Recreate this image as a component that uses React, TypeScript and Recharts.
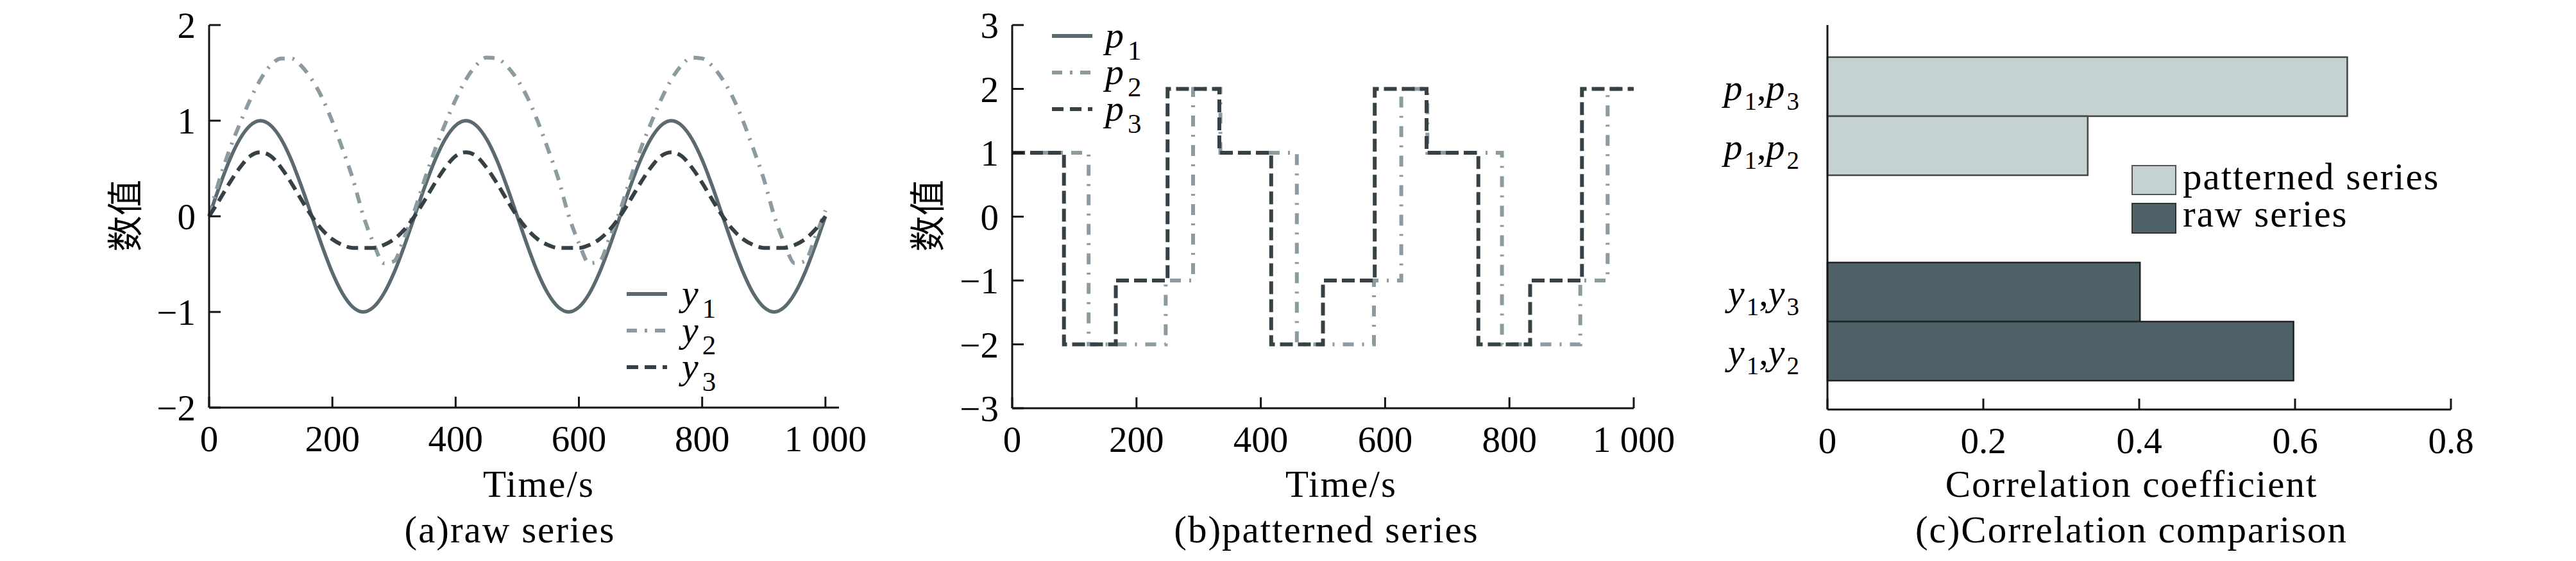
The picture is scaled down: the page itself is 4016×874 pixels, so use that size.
import React from 'react';
import { LineChart, Line, XAxis, YAxis, Legend, BarChart, Bar, Cell, LabelList } from 'recharts';

const SERIF = "'Liberation Serif', 'Times New Roman', serif";
const CJK = "'Noto Sans CJK SC', 'Noto Sans CJK JP', sans-serif";

// ---------- (a) raw series ----------
const TIME = [
  0, 16.7, 33.3, 50, 66.7, 83.3, 100, 116.7, 133.3, 150, 166.7, 183.3, 200, 216.7, 233.3, 250, 266.7, 283.3, 300, 316.7,
  333.3, 350, 366.7, 383.3, 400, 416.7, 433.3, 450, 466.7, 483.3, 500, 516.7, 533.3, 550, 566.7, 583.3, 600, 616.7, 633.3, 650,
  666.7, 683.3, 700, 716.7, 733.3, 750, 766.7, 783.3, 800, 816.7, 833.3, 850, 866.7, 883.3, 900, 916.7, 933.3, 950, 966.7, 983.3,
  1000,
];
const Y1 = [
  0, 0.31, 0.59, 0.81, 0.95, 1, 0.95, 0.81, 0.59, 0.31, 0, -0.31, -0.59, -0.81, -0.95, -1, -0.95, -0.81, -0.59, -0.31,
  0, 0.31, 0.59, 0.81, 0.95, 1, 0.95, 0.81, 0.59, 0.31, 0, -0.31, -0.59, -0.81, -0.95, -1, -0.95, -0.81, -0.59, -0.31,
  0, 0.31, 0.59, 0.81, 0.95, 1, 0.95, 0.81, 0.59, 0.31, 0, -0.31, -0.59, -0.81, -0.95, -1, -0.95, -0.81, -0.59, -0.31,
  0,
];
const Y2 = [
  0, 0.38, 0.7, 0.97, 1.22, 1.43, 1.58, 1.65, 1.65, 1.57, 1.43, 1.24, 0.99, 0.7, 0.39, 0.01, -0.28, -0.49, -0.47, -0.22,
  0.06, 0.39, 0.7, 0.97, 1.22, 1.43, 1.58, 1.66, 1.65, 1.57, 1.43, 1.24, 0.99, 0.7, 0.39, 0.01, -0.28, -0.49, -0.47, -0.22,
  0.06, 0.39, 0.7, 0.97, 1.22, 1.43, 1.58, 1.66, 1.65, 1.57, 1.43, 1.24, 0.99, 0.7, 0.39, 0.01, -0.28, -0.49, -0.47, -0.22,
  0.06,
];
const Y3 = [
  0, 0.17, 0.35, 0.51, 0.63, 0.67, 0.63, 0.51, 0.35, 0.17, 0, -0.14, -0.24, -0.3, -0.33, -0.33, -0.33, -0.3, -0.24, -0.14,
  0, 0.17, 0.35, 0.51, 0.63, 0.67, 0.63, 0.51, 0.35, 0.17, 0, -0.14, -0.24, -0.3, -0.33, -0.33, -0.33, -0.3, -0.24, -0.14,
  0, 0.17, 0.35, 0.51, 0.63, 0.67, 0.63, 0.51, 0.35, 0.17, 0, -0.14, -0.24, -0.3, -0.33, -0.33, -0.33, -0.3, -0.24, -0.14,
  0,
];

// ---------- (b) patterned series ----------
const P1_TIME = [0, 83.3, 166.7, 250, 333.3, 416.7, 500, 583.3, 666.7, 750, 833.3, 916.7, 1000];
const P1 = [1, -2, -1, 2, 1, -2, -1, 2, 1, -2, -1, 2, 2];
const P2_TIME = [0, 123, 247, 291, 335, 458, 582, 626, 668, 788, 914, 958, 1000];
const P2 = [1, -2, -1, 2, 1, -2, -1, 2, 1, -2, -1, 2, 2];
const P3_TIME = [0, 83.3, 166.7, 250, 333.3, 416.7, 500, 583.3, 666.7, 750, 833.3, 916.7, 1000];
const P3 = [1, -2, -1, 2, 1, -2, -1, 2, 1, -2, -1, 2, 2];

// ---------- (c) correlation comparison ----------
const GROUPS = ['patterned series', 'raw series'];
const FIRST_PAIR = [0.667, 0.401];
const SECOND_PAIR = [0.334, 0.598];
const FIRST_LABELS = [['p', '1', 'p', '3'], ['y', '1', 'y', '3']];
const SECOND_LABELS = [['p', '1', 'p', '2'], ['y', '1', 'y', '2']];

// ---------- ticks ----------
const T_TICKS = [0, 200, 400, 600, 800, 1000];
const A_Y_TICKS = [-2, -1, 0, 1, 2];
const B_Y_TICKS = [-3, -2, -1, 0, 1, 2, 3];
const C_X_TICKS = [0, 0.2, 0.4, 0.6, 0.8];

const C_MID = '#5b6a70';
const C_LIGHT = '#8b9ba0';
const C_DARK = '#364146';
const BAR_LIGHT = '#c4d2d2';
const BAR_DARK = '#4f6168';

const rawData = TIME.map((t, i) => ({ t, y1: Y1[i], y2: Y2[i], y3: Y3[i] }));
const p1Data = P1_TIME.map((t, i) => ({ t, v: P1[i] }));
const p2Data = P2_TIME.map((t, i) => ({ t, v: P2[i] }));
const p3Data = P3_TIME.map((t, i) => ({ t, v: P3[i] }));
const corrData = GROUPS.map((g, i) => ({ group: g, first: FIRST_PAIR[i], second: SECOND_PAIR[i] }));

const fmt = (v: number) => (v === 1000 ? '1 000' : v < 0 ? '\u2212' + Math.abs(v) : String(v));

const axisLineStyle = { stroke: '#151515', strokeWidth: 3 };
const tickStyle = { fontSize: 57, fontFamily: SERIF, fill: '#000' };

const LINE_A = [
  { letter: 'y', sub: '1', color: C_MID, dash: undefined },
  { letter: 'y', sub: '2', color: C_LIGHT, dash: '16 12 4 12' },
  { letter: 'y', sub: '3', color: C_DARK, dash: '18 10' },
];
const LINE_B = [
  { letter: 'p', sub: '1', color: C_MID, dash: undefined },
  { letter: 'p', sub: '2', color: C_LIGHT, dash: '16 12 4 12' },
  { letter: 'p', sub: '3', color: C_DARK, dash: '18 10' },
];

const LineLegend = ({ items, lx, ly, tx }: { items: any[]; lx: number; ly: number; tx: number }) => (
  <svg width={240} height={200} style={{ overflow: 'visible', display: 'block' }}>
    {items.map((it, i) => {
      const y = ly + i * 57;
      return (
        <g key={i}>
          <line x1={lx} x2={lx + 63} y1={y} y2={y} stroke={it.color} strokeWidth={6} strokeDasharray={it.dash} />
          <text x={tx} y={y + 18} fontFamily={SERIF} fontSize={58} fill="#000">
            <tspan fontStyle="italic">{it.letter}</tspan>
            <tspan fontSize={43} dx={6} dy={19}>{it.sub}</tspan>
          </text>
        </g>
      );
    })}
  </svg>
);

const BarLegend = () => (
  <svg width={560} height={150} style={{ overflow: 'visible', display: 'block' }}>
    <rect x={14} y={18} width={68} height={45} fill={BAR_LIGHT} stroke="#555" strokeWidth={2} />
    <rect x={14} y={77} width={68} height={46} fill={BAR_DARK} stroke="#333" strokeWidth={2} />
    <text x={93} y={55} fontFamily={SERIF} fontSize={59} letterSpacing={2} fill="#000">patterned series</text>
    <text x={93} y={113} fontFamily={SERIF} fontSize={59} letterSpacing={2} fill="#000">raw series</text>
  </svg>
);

const pairLabel = (labels: string[][]) => (props: any) => {
  const { x, y, height, index } = props;
  const l = labels[index];
  if (!l) return null;
  const cx = Number(x) - 44;
  const cy = Number(y) + Number(height) / 2 + 21;
  return (
    <text x={cx} y={cy} textAnchor="end" fontFamily={SERIF} fontSize={58} fill="#000">
      <tspan fontStyle="italic">{l[0]}</tspan>
      <tspan fontSize={39} dx={3} dy={15}>{l[1]}</tspan>
      <tspan dy={-15}>,</tspan>
      <tspan fontStyle="italic">{l[2]}</tspan>
      <tspan fontSize={39} dx={3} dy={15}>{l[3]}</tspan>
    </text>
  );
};

const ChartA = () => (
  <div style={{ position: 'absolute', left: 0, top: 0 }}>
    <LineChart width={1400} height={874} data={rawData} margin={{ top: 39, right: 92, bottom: 139, left: 226 }}>
      <XAxis
        type="number"
        dataKey="t"
        domain={[0, 1022]}
        ticks={T_TICKS}
        interval={0}
        tickFormatter={fmt}
        tickSize={-17}
        tickMargin={45}
        height={100}
        axisLine={axisLineStyle}
        tickLine={axisLineStyle}
        tick={tickStyle}
      />
      <YAxis
        type="number"
        domain={[-2, 2]}
        ticks={A_Y_TICKS}
        interval={0}
        tickFormatter={fmt}
        tickSize={-18}
        tickMargin={39}
        width={100}
        axisLine={axisLineStyle}
        tickLine={axisLineStyle}
        tick={tickStyle}
      />
      <Line dataKey="y1" type="monotone" stroke={C_MID} strokeWidth={5.5} dot={false} isAnimationActive={false} />
      <Line dataKey="y2" type="monotone" stroke={C_LIGHT} strokeWidth={6} strokeDasharray="17 12 3 12" dot={false} isAnimationActive={false} />
      <Line dataKey="y3" type="monotone" stroke={C_DARK} strokeWidth={6} strokeDasharray="18 10" dot={false} isAnimationActive={false} />
      <Legend
        layout="vertical"
        align="center"
        verticalAlign="middle"
        content={() => <LineLegend items={LINE_A} lx={17} ly={38} tx={103} />}
        wrapperStyle={{ left: 960, top: 420, width: 240, height: 200 }}
      />
    </LineChart>
  </div>
);

const ChartB = () => (
  <div style={{ position: 'absolute', left: 1400, top: 0 }}>
    <LineChart width={1300} height={874} margin={{ top: 39, right: 153, bottom: 138, left: 78 }}>
      <XAxis
        type="number"
        dataKey="t"
        domain={[0, 1000]}
        ticks={T_TICKS}
        interval={0}
        tickFormatter={fmt}
        tickSize={-17}
        tickMargin={45}
        height={100}
        axisLine={axisLineStyle}
        tickLine={axisLineStyle}
        tick={tickStyle}
        allowDuplicatedCategory={false}
      />
      <YAxis
        type="number"
        domain={[-3, 3]}
        ticks={B_Y_TICKS}
        interval={0}
        tickFormatter={fmt}
        tickSize={-18}
        tickMargin={39}
        width={100}
        axisLine={axisLineStyle}
        tickLine={axisLineStyle}
        tick={tickStyle}
      />
      <Line data={p1Data} dataKey="v" type="stepAfter" stroke={C_MID} strokeWidth={5.5} dot={false} hide isAnimationActive={false} />
      <Line data={p2Data} dataKey="v" type="stepAfter" stroke={C_LIGHT} strokeWidth={6} strokeDasharray="17 13 3 13" dot={false} isAnimationActive={false} />
      <Line data={p3Data} dataKey="v" type="stepAfter" stroke={C_DARK} strokeWidth={6} strokeDasharray="20 8" dot={false} isAnimationActive={false} />
      <Legend
        layout="vertical"
        align="center"
        verticalAlign="middle"
        content={() => <LineLegend items={LINE_B} lx={20} ly={36} tx={103} />}
        wrapperStyle={{ left: 220, top: 20, width: 240, height: 200 }}
      />
    </LineChart>
  </div>
);

const ChartC = () => (
  <div style={{ position: 'absolute', left: 2600, top: 0 }}>
    <BarChart
      layout="vertical"
      width={1416}
      height={874}
      data={corrData}
      margin={{ top: 39, right: 195, bottom: 136, left: 239 }}
      barGap={0}
    >
      <XAxis
        type="number"
        domain={[0, 0.8]}
        ticks={C_X_TICKS}
        interval={0}
        tickSize={-17}
        tickMargin={45}
        height={100}
        axisLine={axisLineStyle}
        tickLine={axisLineStyle}
        tick={tickStyle}
      />
      <YAxis
        type="category"
        dataKey="group"
        width={10}
        tick={false}
        tickLine={false}
        axisLine={axisLineStyle}
        padding={{ top: -18, bottom: -23 }}
      />
      <Bar dataKey="first" barSize={92} strokeWidth={2.5} isAnimationActive={false}>
        {corrData.map((d, i) => (
          <Cell key={i} fill={i === 0 ? BAR_LIGHT : BAR_DARK} stroke={i === 0 ? '#444' : '#222'} />
        ))}
        <LabelList dataKey="first" content={pairLabel(FIRST_LABELS)} />
      </Bar>
      <Bar dataKey="second" barSize={92} strokeWidth={2.5} isAnimationActive={false}>
        {corrData.map((d, i) => (
          <Cell key={i} fill={i === 0 ? BAR_LIGHT : BAR_DARK} stroke={i === 0 ? '#444' : '#222'} />
        ))}
        <LabelList dataKey="second" content={pairLabel(SECOND_LABELS)} />
      </Bar>
      <Legend
        layout="vertical"
        align="center"
        verticalAlign="middle"
        content={() => <BarLegend />}
        wrapperStyle={{ left: 710, top: 240, width: 560, height: 150 }}
      />
    </BarChart>
  </div>
);

const Titles = () => (
  <svg width={4016} height={874} style={{ position: 'absolute', left: 0, top: 0, pointerEvents: 'none' }}>
    <text x={190} y={336} transform="rotate(-90 190 336)" textAnchor="middle" dominantBaseline="central" fontFamily={CJK} fontSize={56} fill="#000">数值</text>
    <text x={1441} y={336} transform="rotate(-90 1441 336)" textAnchor="middle" dominantBaseline="central" fontFamily={CJK} fontSize={56} fill="#000">数值</text>
    <g fontFamily={SERIF} fontSize={59} letterSpacing={2} fill="#000" textAnchor="middle">
      <text x={840} y={774}>Time/s</text>
      <text x={795} y={845}>(a)raw series</text>
      <text x={2091} y={774}>Time/s</text>
      <text x={2068} y={845}>(b)patterned series</text>
      <text x={3323} y={774}>Correlation coefficient</text>
      <text x={3323} y={845}>(c)Correlation comparison</text>
    </g>
  </svg>
);

export default function App() {
  return (
    <div style={{ position: 'absolute', left: 0, top: 0, width: 4016, height: 874, background: '#fff', overflow: 'hidden' }}>
      <ChartA />
      <ChartB />
      <ChartC />
      <Titles />
    </div>
  );
}
